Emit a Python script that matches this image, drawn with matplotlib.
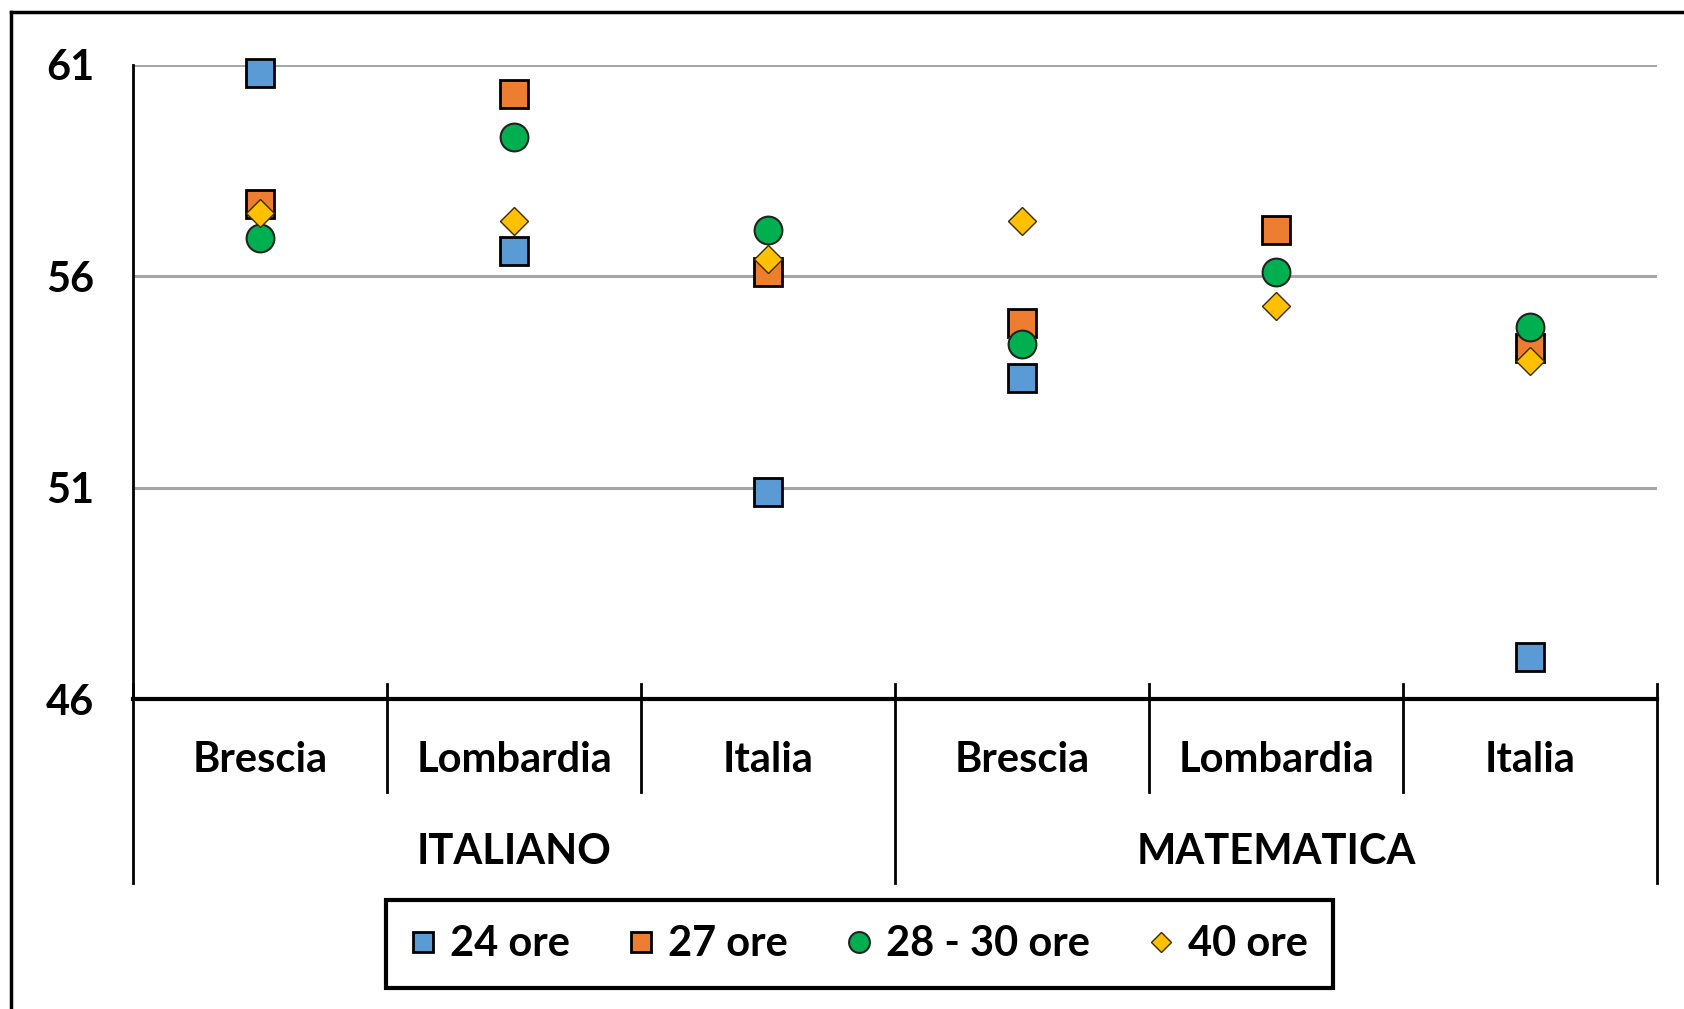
import matplotlib
matplotlib.use('Agg')
import matplotlib.pyplot as plt
from matplotlib.lines import Line2D
import numpy as np

plt.rcParams['font.family'] = ['Lato', 'DejaVu Sans']

# data
sottocategorie = ['Brescia', 'Lombardia', 'Italia', 'Brescia', 'Lombardia', 'Italia']
materie = ['ITALIANO', 'MATEMATICA']
ore_24 = [60.8, 56.6, 50.9, 53.6, np.nan, 47.0]
ore_27 = [57.7, 60.3, 56.1, 54.9, 57.1, 54.3]
ore_28_30 = [56.9, 59.3, 57.1, 54.4, 56.1, 54.8]
ore_40 = [57.5, 57.3, 56.4, 57.3, 55.3, 54.0]
y_ticks = [46, 51, 56, 61]

fig = plt.figure(figsize=(16.84, 10.09), dpi=100)
ax = fig.add_axes([0.079, 0.307, 0.905, 0.629])

x = np.arange(len(sottocategorie))
ax.plot(x, ore_24, 's', ms=20, mfc='#5B9BD5', mec='black', mew=2, label='24 ore', zorder=3, clip_on=False)
ax.plot(x, ore_27, 's', ms=20, mfc='#ED7D31', mec='black', mew=2, label='27 ore', zorder=4, clip_on=False)
ax.plot(x, ore_28_30, 'o', ms=20, mfc='#00B050', mec='#222222', mew=1.5, label='28 - 30 ore', zorder=5, clip_on=False)
ax.plot(x, ore_40, 'D', ms=14, mfc='#FFC000', mec='#3a2a00', mew=1, label='40 ore', zorder=6, clip_on=False)

ax.set_xlim(-0.5, len(sottocategorie) - 0.5)
ax.set_ylim(46, 61)
ax.set_yticks(y_ticks)
ax.set_yticklabels([str(v) for v in y_ticks], fontsize=30, fontweight='bold')
ax.tick_params(axis='y', length=0, pad=28)
ax.set_xticks([])
ax.grid(axis='y', color='#A6A6A6', linewidth=2.2)
ax.set_axisbelow(True)
for s in ['top', 'right']:
    ax.spines[s].set_visible(False)
ax.spines['left'].set_linewidth(2)
ax.spines['bottom'].set_linewidth(3)

# category axis: separators and labels
tr = ax.get_xaxis_transform()
for i in range(len(sottocategorie) + 1):
    b = i - 0.5
    if i % 3 == 0:
        ax.plot([b, b], [0.024, -0.29], color='black', lw=2, transform=tr, clip_on=False)
    else:
        ax.plot([b, b], [0.024, -0.146], color='black', lw=2, transform=tr, clip_on=False)
for i, nome in enumerate(sottocategorie):
    ax.text(i, -0.096, nome, transform=tr, ha='center', va='center',
            fontsize=30, fontweight='bold')
for j, m in enumerate(materie):
    ax.text(j * 3 + 1, -0.24, m, transform=tr, ha='center', va='center',
            fontsize=30, fontweight='bold')

leg = fig.legend(loc='center', bbox_to_anchor=(0.5104, 0.064), ncol=4,
                 prop={'weight': 'bold', 'size': 30},
                 fancybox=False, edgecolor='black', framealpha=1,
                 handlelength=0.6, handletextpad=0.35, columnspacing=1.4,
                 borderpad=0.6, borderaxespad=0, markerscale=0.75)
leg.get_frame().set_linewidth(3)

# outer chart border (left and top only visible)
fig.add_artist(Line2D([0.0064, 0.0064], [0.0, 0.988], color='black', lw=2.5))
fig.add_artist(Line2D([0.0064, 1.0], [0.988, 0.988], color='black', lw=2.5))

fig.savefig('out.png', dpi=100)
